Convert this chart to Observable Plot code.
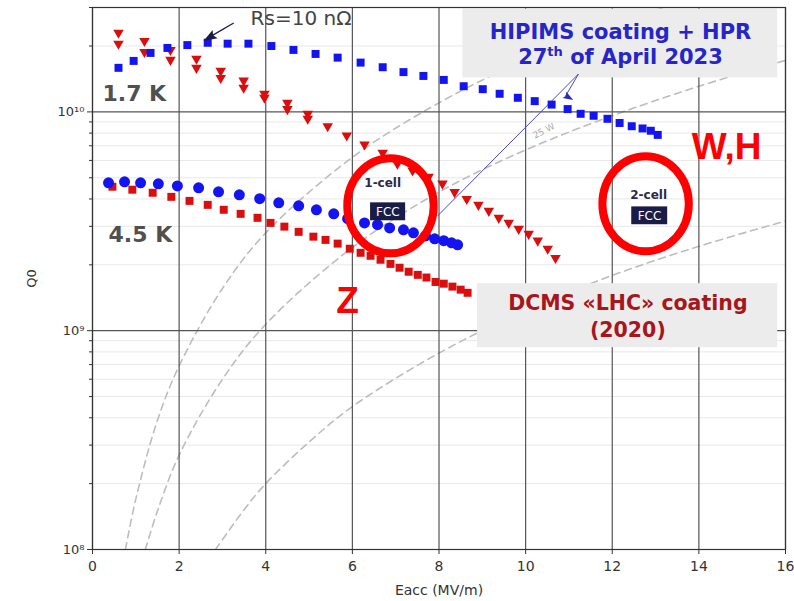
<!DOCTYPE html>
<html><head><meta charset="utf-8">
<script src="https://cdn.jsdelivr.net/npm/d3@7"></script>
<script src="https://cdn.jsdelivr.net/npm/@observablehq/plot@0.6"></script>
<style>
body{margin:0;background:#fff;}
#chart{position:relative;width:794px;height:601px;overflow:hidden;}
</style>
</head><body><div id="chart"></div>
<script>
// ---- data (Eacc in MV/m, Q0) ----
const hipims17E = [0.60,0.95,1.34,1.73,2.19,2.66,3.12,3.60,4.13,4.64,5.15,5.66,6.19,6.70,7.18,7.64,8.11,8.57,9.01,9.40,9.82,10.21,10.60,10.97,11.27,11.57,11.89,12.17,12.45,12.70,12.89,13.05];
const hipims17Q = [1.59e10,1.71e10,1.86e10,1.96e10,2.02e10,2.07e10,2.05e10,2.05e10,2.0e10,1.92e10,1.84e10,1.77e10,1.68e10,1.60e10,1.52e10,1.46e10,1.40e10,1.31e10,1.27e10,1.21e10,1.16e10,1.12e10,1.08e10,1.03e10,9.8e9,9.6e9,9.3e9,8.9e9,8.6e9,8.4e9,8.2e9,7.85e9];
const dcms17E = [0.60,0.60,1.20,1.20,1.80,1.80,2.40,2.40,2.96,2.96,3.49,3.49,3.97,3.97,4.50,4.50,4.97,4.97,5.43,5.87,6.28,6.70,7.04,7.39,7.76,8.08,8.36,8.64,8.91,9.15,9.38,9.61,9.84,10.07,10.28,10.51,10.69];
const dcms17Q = [2.30e10,2.05e10,2.11e10,1.88e10,1.92e10,1.73e10,1.75e10,1.59e10,1.54e10,1.43e10,1.39e10,1.29e10,1.21e10,1.16e10,1.10e10,1.03e10,9.8e9,9.3e9,8.6e9,7.8e9,7.1e9,6.5e9,5.8e9,5.4e9,5.05e9,4.7e9,4.3e9,4.0e9,3.76e9,3.53e9,3.28e9,3.11e9,2.92e9,2.77e9,2.58e9,2.37e9,2.15e9];
const hipims45E = [0.37,0.74,1.11,1.52,1.96,2.45,2.91,3.39,3.86,4.30,4.76,5.17,5.57,5.89,6.28,6.58,6.86,7.18,7.41,7.69,7.90,8.11,8.29,8.43];
const hipims45Q = [4.74e9,4.79e9,4.74e9,4.69e9,4.59e9,4.50e9,4.31e9,4.18e9,4.01e9,3.84e9,3.72e9,3.57e9,3.42e9,3.25e9,3.11e9,3.05e9,2.95e9,2.89e9,2.80e9,2.71e9,2.63e9,2.58e9,2.52e9,2.47e9];
const dcms45E = [0.46,0.92,1.39,1.82,2.24,2.66,3.03,3.42,3.81,4.11,4.43,4.76,5.10,5.38,5.66,5.94,6.19,6.42,6.65,6.88,7.09,7.30,7.51,7.71,7.92,8.11,8.31,8.50,8.66];
const dcms45Q = [4.55e9,4.41e9,4.27e9,4.09e9,3.92e9,3.76e9,3.57e9,3.42e9,3.28e9,3.11e9,2.99e9,2.83e9,2.69e9,2.60e9,2.50e9,2.37e9,2.27e9,2.20e9,2.11e9,2.02e9,1.94e9,1.86e9,1.80e9,1.75e9,1.67e9,1.64e9,1.59e9,1.54e9,1.49e9];
// constant-power dashed curves
const powerAE = [0.76,1.0,1.5,2,3,4,6,8,10,12,13.2];
const powerAQ = [1e8,1.7e8,3.9e8,6.9e8,1.56e9,2.8e9,6.2e9,1.1e10,1.73e10,2.5e10,3.0e10];
const powerBE = [1.22,1.5,2,3,4,6,8,10,12,14,16];
const powerBQ = [1e8,1.5e8,2.7e8,6e8,1.07e9,2.4e9,4.3e9,6.7e9,9.6e9,1.31e10,1.72e10];
const powerCE = [2.84,3.5,4,5,6,8,10,12,14,16];
const powerCQ = [1e8,1.52e8,2e8,3.1e8,4.5e8,7.9e8,1.24e9,1.79e9,2.43e9,3.17e9];
// ticks
const xTicks = [0,2,4,6,8,10,12,14,16];
const yMajor = [1e8,1e9,1e10];
const yMinor = [2e8,3e8,4e8,5e8,6e8,7e8,8e8,9e8,2e9,3e9,4e9,5e9,6e9,7e9,8e9,9e9,2e10,3e10];
const supers = {8:"⁸",9:"⁹",10:"¹⁰"};

const toPts = (E, Q) => E.map((e, i) => ({E: e, Q: Q[i]}));
const curves = [
  ...toPts(powerAE, powerAQ).map(d => ({...d, c: "a"})),
  ...toPts(powerBE, powerBQ).map(d => ({...d, c: "b"})),
  ...toPts(powerCE, powerCQ).map(d => ({...d, c: "c"}))
];

const ellipse = {draw(ctx, size) {
  const r = Math.sqrt(size / Math.PI), rx = r * 0.91, ry = r, k = 0.5523;
  ctx.moveTo(rx, 0);
  ctx.bezierCurveTo(rx, ry*k, rx*k, ry, 0, ry);
  ctx.bezierCurveTo(-rx*k, ry, -rx, ry*k, -rx, 0);
  ctx.bezierCurveTo(-rx, -ry*k, -rx*k, -ry, 0, -ry);
  ctx.bezierCurveTo(rx*k, -ry, rx, -ry*k, rx, 0);
  ctx.closePath();
}};
const arrowHead = {draw(ctx, size) {
  const r = Math.sqrt(size / Math.PI);
  ctx.moveTo(0, -r);
  ctx.lineTo(r * 0.6, r * 0.7);
  ctx.lineTo(0, r * 0.4);
  ctx.lineTo(-r * 0.6, r * 0.7);
  ctx.closePath();
}};

const boxes = [
  {x1: 8.55, x2: 15.82, y1: 1.43e10, y2: 2.95e10},
  {x1: 8.89, x2: 15.82, y1: 8.36e8, y2: 1.64e9}
];
const fccBoxes = [
  {x1: 6.42, x2: 7.23, y1: 3.18e9, y2: 3.84e9},
  {x1: 12.45, x2: 13.28, y1: 3.05e9, y2: 3.68e9}
];
const blueLabel = [
  {t: "HIPIMS coating + HPR", E: 12.19, Q: 2.30e10},
  {t: "27th of April 2023", E: 12.19, Q: 1.77e10}
];
const redLabel = [
  {t: "DCMS «LHC» coating", E: 12.36, Q: 1.33e9},
  {t: "(2020)", E: 12.36, Q: 1.0e9}
];
const tempLabel = [
  {t: "1.7 K", E: 0.23, Q: 1.21e10},
  {t: "4.5 K", E: 0.37, Q: 2.74e9}
];
const cellLabel = [
  {t: "1-cell", E: 6.70, Q: 4.74e9},
  {t: "2-cell", E: 12.84, Q: 4.18e9}
];
const fccLabel = [
  {t: "FCC", E: 6.82, Q: 3.49e9},
  {t: "FCC", E: 12.86, Q: 3.35e9}
];
const circles = [{E: 6.88, Q: 3.72e9}, {E: 12.77, Q: 3.80e9}];
const redLetters = [
  {t: "W,H", E: 14.64, Q: 6.92e9},
  {t: "Z", E: 5.89, Q: 1.37e9}
];
const pointerLines = [
  {x1: 11.22, y1: 1.49e10, x2: 7.97, y2: 3.35e9},
  {x1: 11.22, y1: 1.49e10, x2: 10.92, y2: 1.18e10}
];
const pointerHeads = [{E: 10.98, Q: 1.17e10}];
const rsLine = [{x1: 3.26, y1: 2.55e10, x2: 2.76, y2: 2.23e10}];
const rsHead = [{E: 2.72, Q: 2.20e10}];
const rsLabel = [{t: "Rs=10 nΩ", E: 3.65, Q: 2.66e10}];
const wattLabel = [{t: "25 W", E: 10.42, Q: 8.19e9}];

const blue = "#1414f0", red = "#d90f0f";

const chart = Plot.plot({
  width: 794, height: 601,
  marginLeft: 92, marginRight: 9, marginTop: 7, marginBottom: 52,
  style: {fontFamily: "DejaVu Sans, sans-serif", background: "#fff", color: "#333"},
  x: {domain: [0, 16]},
  y: {type: "log", domain: [1e8, 3e10]},
  marks: [
    Plot.gridY(yMinor, {stroke: "#e8e8e8", strokeOpacity: 1}),
    Plot.line(curves, {x: "E", y: "Q", z: "c", curve: "catmull-rom", stroke: "#bdbdbd", strokeWidth: 1.6, strokeDasharray: "7,5", clip: true}),
    Plot.gridX(xTicks, {stroke: "#555", strokeOpacity: 1, strokeWidth: 1.2}),
    Plot.gridY(yMajor, {stroke: "#555", strokeOpacity: 1, strokeWidth: 1.2}),
    Plot.text(wattLabel, {x: "E", y: "Q", text: "t", rotate: -28, fontSize: 9, fill: "#aaa"}),
    Plot.rect(boxes, {x1: "x1", x2: "x2", y1: "y1", y2: "y2", fill: "#ececec"}),
    Plot.link(pointerLines, {x1: "x1", y1: "y1", x2: "x2", y2: "y2", stroke: "#4a4ac8", strokeWidth: 1}),
    Plot.dot(pointerHeads, {x: "E", y: "Q", symbol: arrowHead, r: 6, rotate: 120, fill: "#2a2ab8"}),
    Plot.dot(toPts(dcms45E, dcms45Q), {x: "E", y: "Q", symbol: "square", r: 4.5, fill: red}),
    Plot.dot(toPts(hipims45E, hipims45Q), {x: "E", y: "Q", symbol: "circle", r: 5.5, fill: blue}),
    Plot.dot(toPts(dcms17E, dcms17Q), {x: "E", y: "Q", symbol: "triangle", r: 3.9, rotate: 180, fill: red}),
    Plot.dot(toPts(hipims17E, hipims17Q), {x: "E", y: "Q", symbol: "square", r: 4.5, fill: blue}),
    Plot.text(blueLabel, {x: "E", y: "Q", text: "t", fontSize: 21, fontWeight: "bold", fill: "#2626c8"}),
    Plot.text(redLabel, {x: "E", y: "Q", text: "t", fontSize: 20.5, fontWeight: "bold", fill: "#a8161c"}),
    Plot.text(tempLabel, {x: "E", y: "Q", text: "t", fontSize: 22, fontWeight: "bold", fill: "#505050", textAnchor: "start"}),
    Plot.rect(fccBoxes, {x1: "x1", x2: "x2", y1: "y1", y2: "y2", fill: "#1b1b48"}),
    Plot.text(cellLabel, {x: "E", y: "Q", text: "t", fontSize: 12, fontWeight: "bold", fill: "#2a2a48"}),
    Plot.text(fccLabel, {x: "E", y: "Q", text: "t", fontSize: 12, fill: "#fff"}),
    Plot.link(rsLine, {x1: "x1", y1: "y1", x2: "x2", y2: "y2", stroke: "#1b1b48", strokeWidth: 1.3}),
    Plot.dot(rsHead, {x: "E", y: "Q", symbol: arrowHead, r: 8, rotate: 239, fill: "#1b1b48"}),
    Plot.text(rsLabel, {x: "E", y: "Q", text: "t", fontSize: 20, fill: "#444", textAnchor: "start"}),
    Plot.dot(circles, {x: "E", y: "Q", symbol: ellipse, r: 47.5, fill: "none", stroke: "#ff0000", strokeWidth: 8}),
    Plot.text(redLetters, {x: "E", y: "Q", text: "t", fontSize: 37, fontWeight: "bold", fill: "#ff0000", fontFamily: "Liberation Sans, Arial, sans-serif"}),
    Plot.frame({stroke: "#333", strokeWidth: 1.2}),
    Plot.axisX(xTicks, {tickSize: 5, tickPadding: 7, fontSize: 14, stroke: "#333", label: "Eacc (MV/m)", labelAnchor: "center", labelArrow: "none", labelOffset: 45, color: "#333"}),
    Plot.axisY(yMajor, {tickSize: 5, tickPadding: 3, fontSize: 13, tickFormat: d => "10" + supers[Math.round(Math.log10(d))], label: "Q0", labelAnchor: "center", labelArrow: "none", labelOffset: 66}),
    Plot.axisY(yMinor, {tickSize: 3, tickFormat: () => "", label: null})
  ]
});
document.getElementById("chart").appendChild(chart);
// superscript "th"
d3.select(chart).selectAll("text").each(function() {
  if (this.textContent === "27th of April 2023" && this.children.length === 0) {
    this.textContent = "";
    const s = d3.select(this);
    s.append("tspan").text("27");
    s.append("tspan").attr("dy", "-8").attr("font-size", "13").text("th");
    s.append("tspan").attr("dy", "8").text(" of April 2023");
  }
});
</script>
</body></html>
